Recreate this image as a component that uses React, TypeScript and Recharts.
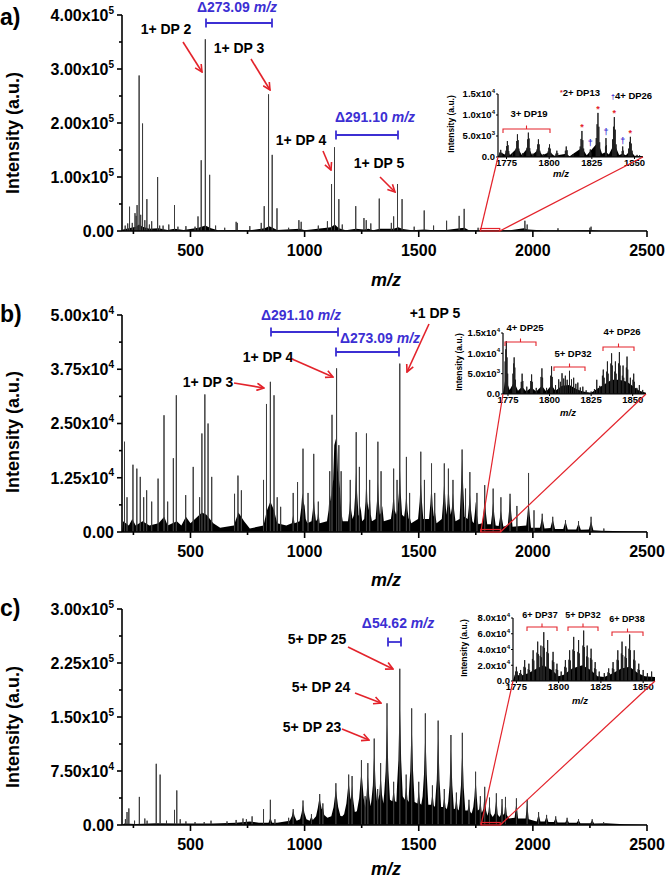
import React from "react";
import { ComposedChart, Line, Area, XAxis, YAxis } from "recharts";

const FONT = '"Liberation Sans", Arial, Helvetica, sans-serif';
const RED = "#e3232b";
const BLUE = "#3c2fd3";

// ---------- panel a ----------
const sticksA: [number, number][] = [
  [214, 10000], [225, 14000], [233, 45000], [245, 15000], [257, 33000], [262, 28000], [266, 48000],
  [275, 288000], [282, 30000], [290, 199000], [300, 20000], [309, 59000], [320, 12000], [330, 18000],
  [356, 100000], [365, 10000], [380, 10000], [405, 12000], [430, 48000], [445, 8000], [480, 9000],
  [520, 8000], [533, 27000], [547, 131000], [565, 355000], [584, 104000], [610, 10000], [650, 6000],
  [700, 17000], [705, 15000], [760, 9000], [810, 15000], [823, 46000], [842, 253000], [858, 141000],
  [879, 42000], [930, 6000], [975, 20000], [985, 17000], [1060, 10000], [1100, 18000], [1118, 87000],
  [1131, 155000], [1150, 59000], [1165, 12000], [1224, 46000], [1260, 24000], [1270, 20000],
  [1290, 14000], [1327, 60000], [1380, 15000], [1390, 27000], [1407, 87000], [1427, 59000],
  [1480, 8000], [1524, 38000], [1565, 10000], [1622, 19000], [1677, 28000], [1699, 41000],
  [1760, 6000], [1965, 19000], [1975, 12000], [2110, 5000], [2250, 6000], [2255, 8000],
];
const envA: [number, number][] = [
  [200, 0], [205, 3000], [230, 5000], [260, 8000], [275, 12000], [290, 8000], [320, 4000], [360, 5000],
  [400, 2000], [430, 4000], [470, 2000], [535, 6000], [565, 10000], [590, 5000], [620, 1500],
  [700, 2000], [760, 1500], [825, 5000], [845, 9000], [860, 6000], [880, 2000], [980, 4000],
  [1000, 1500], [1115, 7000], [1132, 12000], [1150, 5000], [1180, 1500], [1225, 4000], [1260, 3000],
  [1280, 4000], [1300, 1500], [1330, 4000], [1390, 4000], [1410, 7000], [1430, 3500], [1470, 1500],
  [1525, 3000], [1550, 2000], [1620, 2000], [1680, 5000], [1700, 6000], [1720, 1500], [1800, 1500],
  [1900, 1500], [1960, 5000], [1980, 3000], [2050, 1000], [2150, 800], [2260, 1500], [2300, 600],
  [2500, 300],
];
const yTicksA = [0, 50000, 100000, 150000, 200000, 250000, 300000, 350000, 400000];
const yMajorA = [0, 100000, 200000, 300000, 400000];
const yLabelA: [string, string][] = [["0.00", ""], ["1.00x10", "5"], ["2.00x10", "5"], ["3.00x10", "5"], ["4.00x10", "5"]];

// ---------- panel b ----------
const sticksB: [number, number][] = [
  [211, 20800], [222, 8000], [248, 15500], [265, 14600], [280, 12700], [295, 8000], [308, 9600],
  [330, 7000], [358, 12300], [384, 26900], [400, 7000], [425, 17000], [438, 31500], [479, 8500],
  [512, 15000], [540, 8000], [550, 22700], [563, 31700], [577, 25000], [593, 12700], [693, 8800],
  [708, 13000], [723, 9600], [820, 12000], [833, 29500], [850, 34600], [866, 31500], [880, 8000],
  [895, 5800], [950, 9000], [969, 11500], [993, 19200], [1015, 9000], [1040, 18000], [1060, 7000],
  [1110, 14000], [1120, 27000], [1140, 37700], [1150, 20000], [1160, 14000], [1200, 12000],
  [1226, 23000], [1240, 15000], [1271, 22700], [1285, 12000], [1321, 20800], [1335, 14000],
  [1390, 14600], [1405, 12000], [1417, 38800], [1446, 17300], [1460, 9000], [1509, 18500],
  [1525, 12000], [1556, 15800], [1570, 9000], [1612, 15800], [1630, 14600], [1650, 12000],
  [1690, 19000], [1705, 10000], [1724, 13800], [1755, 9000], [1789, 10800], [1826, 10000],
  [1860, 8000], [1900, 8800], [1930, 6000], [1981, 13600], [2005, 5000], [2041, 4200], [2087, 3500],
  [2143, 2700], [2200, 2500], [2255, 3500], [2311, 800],
];
const envB: [number, number][] = [
  [200, 0], [205, 2500], [230, 1500], [245, 3000], [260, 1500], [290, 2500], [320, 1500], [360, 2000],
  [385, 3500], [400, 1500], [440, 2500], [460, 1500], [480, 3500], [500, 2000], [550, 4500],
  [570, 4000], [600, 2000], [630, 1000], [690, 1500], [710, 4500], [735, 2500], [760, 800],
  [820, 1500], [835, 5000], [850, 7000], [866, 5000], [880, 2000], [920, 1500],
  [944, 2000], [950, 4000], [956, 2000], [978, 2500], [985, 5500], [990, 9000], [995, 7000],
  [1000, 6000], [1005, 3000], [1012, 2000], [1030, 2500], [1036, 5000], [1040, 8000], [1044, 5000],
  [1050, 2500], [1056, 3000], [1060, 5000], [1066, 2000],
  [1098, 2500], [1105, 5000], [1110, 9000], [1115, 7000], [1120, 10000], [1125, 12000], [1130, 20000],
  [1135, 21000], [1140, 22000], [1146, 14000], [1155, 10000], [1160, 5000], [1167, 2500],
  [1190, 2500], [1196, 5000], [1200, 8000], [1204, 5000], [1210, 3000], [1216, 4000], [1222, 9000],
  [1226, 15000], [1230, 9000], [1236, 4000], [1240, 3500], [1245, 6000], [1252, 2500],
  [1261, 3000], [1267, 7000], [1271, 13000], [1275, 7000], [1280, 5000], [1285, 9000], [1290, 4000],
  [1295, 2500], [1311, 3000], [1317, 7000], [1321, 12000], [1325, 7000], [1330, 4000], [1335, 4500],
  [1340, 6000], [1347, 2500], [1378, 3000], [1385, 5500], [1390, 9000], [1395, 5000], [1401, 4000],
  [1407, 5000], [1413, 9000], [1417, 16000], [1421, 9000], [1427, 4000], [1436, 3500], [1441, 5500],
  [1446, 9000], [1451, 5000], [1456, 3000], [1460, 3500], [1467, 2000],
  [1497, 3000], [1504, 7000], [1509, 12000], [1514, 7000], [1520, 3000], [1545, 3000], [1551, 6500],
  [1556, 11000], [1561, 6000], [1566, 3500], [1570, 5000], [1578, 2000],
  [1601, 3000], [1607, 7000], [1612, 12000], [1617, 7000], [1621, 4000], [1626, 6500], [1630, 11000],
  [1635, 6500], [1640, 4000], [1645, 5500], [1650, 9000], [1655, 5000], [1661, 2500],
  [1679, 3000], [1685, 10000], [1690, 17000], [1695, 10000], [1701, 3500], [1714, 3000], [1719, 5500],
  [1724, 9000], [1729, 5000], [1735, 2500], [1741, 2000], [1746, 4500], [1750, 7000], [1755, 4000],
  [1761, 1800], [1779, 2000], [1784, 4500], [1789, 8000], [1794, 4500], [1800, 1800], [1816, 1800],
  [1821, 4000], [1826, 7000], [1831, 4000], [1837, 1500], [1850, 1400], [1855, 3000], [1860, 5000],
  [1865, 3000], [1871, 1200], [1890, 1600], [1895, 4500], [1900, 8000], [1905, 4500], [1911, 1200],
  [1971, 1500], [1976, 4000], [1981, 7000], [1986, 4000], [1992, 1000],
  [2031, 1000], [2041, 3500], [2051, 800], [2077, 900], [2087, 3000], [2097, 700], [2133, 700],
  [2143, 2500], [2153, 600], [2190, 600], [2200, 2000], [2210, 500], [2245, 600], [2255, 2500],
  [2265, 400], [2300, 300], [2400, 200], [2500, 100],
];
const yTicksB = [0, 6250, 12500, 18750, 25000, 31250, 37500, 43750, 50000];
const yMajorB = [0, 12500, 25000, 37500, 50000];
const yLabelB: [string, string][] = [["0.00", ""], ["1.25x10", "4"], ["2.50x10", "4"], ["3.75x10", "4"], ["5.00x10", "4"]];

// ---------- panel c ----------
const sticksC: [number, number][] = [
  [215, 8000], [222, 18000], [230, 23000], [255, 6000], [276, 39000], [300, 9000], [310, 6000],
  [350, 85000], [367, 70000], [395, 6000], [430, 21000], [440, 48000], [455, 8000], [480, 5000],
  [520, 4000], [560, 4000], [590, 6000], [660, 5000], [700, 7000], [730, 9000], [745, 8000],
  [770, 12000], [820, 22000], [850, 35000], [870, 8000], [930, 10000], [950, 22000], [993, 34000],
  [1030, 15000], [1066, 43000], [1080, 30000], [1137, 58000], [1193, 70000], [1208, 68000],
  [1249, 90000], [1265, 40000], [1277, 86000], [1305, 120000], [1320, 50000], [1333, 86000],
  [1361, 169000], [1390, 60000], [1417, 217000], [1445, 70000], [1469, 162000], [1500, 60000],
  [1529, 155000], [1560, 55000], [1585, 145000], [1612, 50000], [1641, 125000], [1665, 45000],
  [1691, 128000], [1720, 35000], [1749, 74000], [1770, 40000], [1789, 53000], [1810, 38000],
  [1840, 44000], [1865, 36000], [1880, 39000], [1928, 37000], [1975, 35000], [2025, 18000],
  [2060, 14000], [2100, 12000], [2150, 10000], [2200, 8000], [2260, 8000], [2310, 4000],
];
const envC: [number, number][] = [
  [200, 0], [210, 2000], [260, 1500], [350, 2500], [450, 2000], [600, 2000], [700, 3000], [760, 5000],
  [800, 3000], [842, 3000], [850, 10000], [858, 3000], [880, 3000],
  [935, 6000], [944, 12000], [950, 20000], [956, 12000], [965, 6000], [980, 8000], [987, 17000],
  [993, 28000], [999, 17000], [1008, 8000], [1022, 6000], [1030, 12000], [1036, 7000], [1050, 12000],
  [1058, 24000], [1062, 32000], [1066, 38000], [1070, 30000], [1075, 22000], [1080, 25000],
  [1086, 14000], [1100, 10000],
  [1117, 12000], [1127, 25000], [1133, 40000], [1137, 50000], [1141, 40000], [1147, 25000], [1157, 12500],
  [1165, 12000], [1173, 15000], [1183, 30000], [1189, 48000], [1193, 60000], [1197, 48000], [1201, 35000],
  [1204, 40000], [1208, 55000], [1213, 35000], [1220, 18000],
  [1229, 19000], [1239, 37000], [1245, 60000], [1249, 75000], [1253, 60000], [1259, 37000], [1266, 24000],
  [1271, 40000], [1277, 70000], [1283, 40000], [1289, 26000],
  [1293, 35000], [1299, 55000], [1302, 80000], [1305, 100000], [1308, 80000], [1311, 55000], [1318, 30000],
  [1327, 42000], [1333, 70000], [1339, 42000], [1345, 30000],
  [1349, 45000], [1355, 75000], [1358, 110000], [1361, 140000], [1364, 110000], [1367, 75000], [1374, 35000],
  [1384, 33000], [1390, 50000], [1396, 33000], [1402, 32000],
  [1405, 55000], [1411, 90000], [1414, 135000], [1417, 170000], [1420, 135000], [1423, 90000], [1430, 40000],
  [1439, 35000], [1445, 55000], [1451, 35000], [1456, 32000],
  [1457, 45000], [1463, 75000], [1466, 110000], [1469, 140000], [1472, 110000], [1475, 75000], [1482, 32000],
  [1494, 30000], [1500, 50000], [1506, 30000], [1511, 28000],
  [1517, 40000], [1523, 70000], [1526, 100000], [1529, 130000], [1532, 100000], [1535, 70000], [1542, 28000],
  [1554, 28000], [1560, 45000], [1566, 27000], [1571, 25000],
  [1573, 36000], [1579, 62000], [1582, 95000], [1585, 120000], [1588, 95000], [1591, 62000], [1598, 25000],
  [1606, 25000], [1612, 40000], [1618, 24000], [1623, 22000],
  [1629, 32000], [1635, 55000], [1638, 82000], [1641, 105000], [1644, 82000], [1647, 55000], [1654, 22000],
  [1659, 23000], [1665, 38000], [1671, 22000], [1675, 20000],
  [1679, 30000], [1685, 55000], [1688, 82000], [1691, 105000], [1694, 82000], [1697, 52000], [1704, 20000],
  [1714, 20000], [1720, 30000], [1726, 18000], [1732, 16000],
  [1739, 25000], [1744, 40000], [1749, 65000], [1754, 40000], [1759, 20000],
  [1765, 22000], [1770, 35000], [1776, 17000], [1783, 22000], [1789, 45000], [1795, 20000], [1801, 13000],
  [1805, 18000], [1810, 32000], [1815, 16000], [1824, 11000], [1833, 16000], [1840, 38000], [1846, 15000],
  [1853, 11000], [1859, 14000], [1865, 30000], [1870, 14000], [1875, 16000], [1880, 33000], [1886, 14000],
  [1895, 9000], [1920, 10000], [1928, 32000], [1935, 9000], [1968, 9000], [1975, 30000], [1982, 8000],
  [2017, 5000], [2025, 15000], [2033, 5000], [2052, 5000], [2060, 12000], [2068, 4000],
  [2092, 4000], [2100, 10000], [2108, 3500], [2142, 3500], [2150, 8000], [2158, 3000],
  [2192, 3000], [2200, 7000], [2208, 2500], [2252, 2500], [2260, 7000], [2268, 2000],
  [2320, 2500], [2400, 1000], [2500, 300],
];
const yTicksC = [0, 37500, 75000, 112500, 150000, 187500, 225000, 262500, 300000];
const yMajorC = [0, 75000, 150000, 225000, 300000];
const yLabelC: [string, string][] = [["0.00", ""], ["7.50x10", "4"], ["1.50x10", "5"], ["2.25x10", "5"], ["3.00x10", "5"]];

const xTicks = [250, 500, 750, 1000, 1250, 1500, 1750, 2000, 2250, 2500];
const xMajor = [500, 1000, 1500, 2000, 2500];

// ---------- insets ----------
const insetSticksA: [number, number][] = [
  [1771.0, 800], [1771.6, 1700], [1772.2, 1000],
  [1774.7, 1500], [1775.1, 2600], [1775.5, 3800], [1775.9, 2800], [1776.3, 1400], [1778.5, 800],
  [1780.6, 2000], [1781.0, 3800], [1781.4, 5400], [1781.8, 4000], [1782.2, 2000], [1784.5, 900],
  [1787.0, 2200], [1787.4, 4200], [1787.8, 5800], [1788.2, 4400], [1788.6, 2100], [1790.5, 800],
  [1792.9, 1800], [1793.3, 3000], [1793.7, 4200], [1794.1, 3000], [1794.5, 1500], [1796.5, 700],
  [1799.4, 1300], [1799.8, 2200], [1800.2, 3000], [1800.6, 2000], [1801.0, 1000],
  [1804.0, 800], [1804.5, 1500], [1805.0, 900], [1809.5, 1500], [1810.0, 2500], [1810.5, 1600], [1814, 600],
  [1818.2, 2500], [1818.7, 4300], [1819.2, 6200], [1819.7, 4000], [1820.2, 2000],
  [1823.8, 1200], [1824.1, 1800], [1824.4, 1100],
  [1827.6, 4500], [1828.1, 7800], [1828.6, 10500], [1829.1, 7200], [1829.6, 3500],
  [1833.0, 2500], [1833.3, 4500], [1833.6, 2800],
  [1837.2, 4200], [1837.7, 7200], [1838.2, 9500], [1838.7, 6500], [1839.2, 3000],
  [1842.8, 1400], [1843.1, 2500], [1843.4, 1500],
  [1846.6, 2000], [1847.1, 3600], [1847.6, 4800], [1848.1, 3200], [1848.6, 1500],
  [1851.5, 500], [1853.0, 400],
];
const insetEnvA: [number, number][] = [
  [1770, 0], [1771, 1200], [1774, 600], [1775.5, 1800], [1777, 500], [1781.4, 2200], [1784, 500],
  [1787.8, 2400], [1790, 500], [1793.7, 1800], [1796, 400], [1800.2, 1200], [1803, 300], [1810, 800],
  [1812, 200], [1819.2, 2200], [1822, 400], [1828.6, 3500], [1831, 800], [1833.3, 1200], [1835, 600],
  [1838.2, 3200], [1841, 500], [1843.1, 800], [1845, 400], [1847.6, 1600], [1850, 300], [1855, 200],
];
const insetSticksB: [number, number][] = [
  [1773.3, 8000], [1773.7, 11000], [1774.0, 13000], [1774.4, 9000], [1774.8, 5000],
  [1778.0, 5000], [1778.4, 7500], [1778.7, 9000], [1779.1, 6500], [1779.5, 3500],
  [1783.0, 3000], [1783.5, 5000], [1783.9, 3200], [1786.3, 1800],
  [1788.7, 3200], [1789.2, 4800], [1789.6, 3000], [1792.0, 1500],
  [1794.9, 4200], [1795.4, 6300], [1795.8, 4000], [1798.2, 1500],
  [1800.7, 4500], [1801.2, 6800], [1801.6, 4200], [1803.6, 2200],
  [1805.5, 3600], [1806.5, 3000], [1807.5, 5100], [1808.5, 3800], [1809.5, 4500], [1810.6, 3500],
  [1812.0, 5700], [1813.2, 3600], [1814.5, 4000], [1815.8, 2500], [1817.0, 2800], [1818.5, 1600],
  [1820.0, 1800], [1822.0, 900], [1825.0, 600], [1827.0, 1200], [1828.4, 3500], [1830.2, 2000],
  [1831.8, 4500], [1832.3, 6000], [1832.8, 4000], [1834.4, 5500], [1834.8, 8000], [1835.2, 5000],
  [1836.9, 7500], [1837.3, 10000], [1837.7, 7000], [1839.2, 5500], [1839.6, 8000], [1840.0, 5000],
  [1841.5, 7500], [1842.0, 10300], [1842.4, 7000], [1843.8, 4500], [1844.2, 7000], [1844.6, 4000],
  [1846.2, 6500], [1846.6, 9200], [1847.0, 6000], [1848.6, 4000],
  [1850.2, 3500], [1850.6, 5000], [1851.0, 3000], [1852.5, 1500], [1854.0, 2200], [1856.0, 1000],
];
const insetEnvB: [number, number][] = [
  [1772, 0], [1773.5, 4000], [1776, 1000], [1778.7, 3000], [1781, 800], [1783.5, 1800], [1786, 600],
  [1789, 1600], [1792, 600], [1795.4, 2000], [1798, 600], [1801.2, 2200], [1803.5, 800],
  [1807.5, 2000], [1812, 2200], [1816, 1200], [1820, 600], [1825, 300], [1828.4, 1200],
  [1832.3, 2200], [1837.3, 3500], [1841.9, 3500], [1846.6, 3000], [1850.6, 1800], [1854, 800], [1858, 300],
];
const insetSticksC: [number, number][] = [
  [1774.5, 12000], [1775.0, 18000], [1775.5, 12000], [1777.0, 10000], [1777.5, 14000], [1778.0, 9000],
  [1779.5, 18000], [1779.9, 26500], [1780.3, 17000], [1782.0, 15000], [1782.4, 22000], [1782.8, 14000],
  [1784.5, 28000], [1784.9, 39000], [1785.3, 26000], [1787.2, 36000], [1787.6, 50000], [1788.0, 34000],
  [1789.1, 32000], [1789.5, 45000], [1789.9, 30000], [1790.8, 44000], [1791.2, 62000], [1791.6, 42000],
  [1793.1, 37000], [1793.5, 52000], [1793.9, 35000], [1796.3, 26000], [1796.7, 37000], [1797.1, 24000],
  [1798.6, 15000], [1799.0, 22000], [1799.4, 14000], [1801.5, 12000],
  [1803.6, 18000], [1804.0, 26500], [1804.4, 17000], [1806.1, 27000], [1806.5, 39000], [1806.9, 26000],
  [1808.5, 40000], [1808.9, 56000], [1809.3, 38000], [1811.4, 37000], [1811.8, 52000], [1812.2, 35000],
  [1814.4, 45000], [1814.8, 64000], [1815.2, 43000], [1816.5, 31000], [1816.9, 45000], [1817.3, 30000],
  [1818.8, 29000], [1819.2, 41000], [1819.6, 27000], [1821.2, 16000], [1821.6, 24000], [1822.0, 15000],
  [1824.0, 12000], [1827.0, 10000],
  [1829.2, 11000], [1829.6, 16000], [1830.0, 10000], [1831.8, 16000], [1832.2, 24000], [1832.6, 15000],
  [1834.6, 27000], [1835.0, 39000], [1835.4, 26000], [1837.1, 35000], [1837.5, 50000], [1837.9, 33000],
  [1839.3, 31000], [1839.7, 44000], [1840.1, 29000], [1841.6, 41000], [1842.0, 59000], [1842.4, 39000],
  [1844.3, 27000], [1844.7, 39000], [1845.1, 26000], [1847.0, 15000], [1847.4, 22000], [1847.8, 14000],
  [1850.0, 14000], [1852.5, 10000], [1855.0, 12000],
];
const insetEnvC: [number, number][] = [
  [1773, 0], [1774, 8000], [1778, 7000], [1782, 10000], [1787, 16000], [1791, 20000], [1796, 14000],
  [1800, 6000], [1803, 8000], [1808, 16000], [1814, 20000], [1819, 14000], [1823, 6000], [1827, 5000],
  [1832, 10000], [1837, 16000], [1842, 18000], [1847, 10000], [1851, 6000], [1857, 5000],
];
const insetXTicks = [1775, 1800, 1825, 1850];
const insetYTicksAB = [0, 5000, 10000, 15000];
const insetYLabelAB: [string, string][] = [["0.0", ""], ["5.0x10", "3"], ["1.0x10", "4"], ["1.5x10", "4"]];
const insetYTicksC = [0, 20000, 40000, 60000, 80000];
const insetYLabelC: [string, string][] = [["0.0", ""], ["2.0x10", "4"], ["4.0x10", "4"], ["6.0x10", "4"], ["8.0x10", "4"]];

// marked peaks in inset a
const starPeaksA: [number, number][] = [[1819.2, 6200], [1828.6, 10500], [1838.2, 9500], [1847.6, 4800]];
const daggerPeaksA: [number, number][] = [[1824.1, 1800], [1833.3, 4500], [1843.1, 2500]];

type Row = { mz: number; stick?: number; env?: number };
function buildRows(sticks: [number, number][], env: [number, number][]): Row[] {
  const rows: Row[] = [];
  sticks.forEach(([mz, v]) => {
    rows.push({ mz, stick: 0 }, { mz, stick: v }, { mz, stick: 0 });
  });
  env.forEach(([mz, v]) => rows.push({ mz, env: v }));
  return rows.sort((p, q) => p.mz - q.mz);
}

const yTick = (majors: number[], labels: [string, string][], fs: number, sup: number, gap: number, big: number, small: number, sw: number) =>
  (props: any) => {
    const { x, y, payload } = props;
    const ax = x + gap;
    const i = majors.indexOf(payload.value);
    return (
      <g>
        <line x1={ax - (i >= 0 ? big : small)} x2={ax} y1={y} y2={y} stroke="#000" strokeWidth={sw} />
        {i >= 0 && (
          <text x={x} y={y} dy="0.36em" textAnchor="end" fontFamily={FONT} fontWeight="bold" fontSize={fs} fill="#000">
            {labels[i][0]}
            {labels[i][1] && (
              <tspan dy={-fs * 0.45} fontSize={sup}>{labels[i][1]}</tspan>
            )}
          </text>
        )}
      </g>
    );
  };

const xTick = (majors: number[], fs: number, gap: number, big: number, small: number, textOff: number, sw: number) =>
  (props: any) => {
    const { x, y, payload } = props;
    const ay = y - gap;
    const major = majors.includes(payload.value);
    return (
      <g>
        <line x1={x} x2={x} y1={ay} y2={ay + (major ? big : small)} stroke="#000" strokeWidth={sw} />
        {major && (
          <text x={x} y={ay + textOff} textAnchor="middle" fontFamily={FONT} fontWeight="bold" fontSize={fs} fill="#000">
            {payload.value}
          </text>
        )}
      </g>
    );
  };

const PLOT_L = 122;
const PLOT_R = 647;

function MainSpectrum(p: {
  top: number; height: number; plotTop: number; plotBottom: number; yMax: number;
  yTicks: number[]; yMajor: number[]; yLabels: [string, string][]; rows: Row[];
}) {
  const margin = {
    top: p.plotTop - p.top,
    right: 666 - PLOT_R,
    left: PLOT_L - 100,
    bottom: p.top + p.height - p.plotBottom - 30,
  };
  return (
    <div style={{ position: "absolute", left: 0, top: p.top }}>
      <ComposedChart width={666} height={p.height} data={p.rows} margin={margin}>
        <XAxis dataKey="mz" type="number" domain={[200, 2500]} allowDataOverflow ticks={xTicks} interval={0}
          tickSize={0} tickMargin={8} tickLine={false} height={30}
          axisLine={{ stroke: "#000", strokeWidth: 1.6 }} tick={xTick(xMajor, 16, 8, 6, 3, 25, 1.6)} />
        <YAxis type="number" domain={[0, p.yMax]} allowDataOverflow ticks={p.yTicks} interval={0} width={100}
          tickSize={0} tickMargin={8} tickLine={false}
          axisLine={{ stroke: "#000", strokeWidth: 1.6 }} tick={yTick(p.yMajor, p.yLabels, 16, 10, 8, 5, 3, 1.6)} />
        <Area dataKey="env" type="linear" stroke="none" fill="#000" fillOpacity={1} connectNulls
          dot={false} activeDot={false} isAnimationActive={false} />
        <Line dataKey="stick" type="linear" stroke="#3c3c3c" strokeWidth={1} strokeLinejoin="bevel" connectNulls
          dot={false} activeDot={false} isAnimationActive={false} />
      </ComposedChart>
    </div>
  );
}

function Inset(p: {
  left: number; top: number; width: number; margin: any; domain: [number, number]; yMax: number;
  yTicks: number[]; yLabels: [string, string][]; rows: Row[];
}) {
  return (
    <div style={{ position: "absolute", left: p.left, top: p.top }}>
      <ComposedChart width={p.width} height={100} data={p.rows} margin={p.margin}>
        <XAxis dataKey="mz" type="number" domain={p.domain} allowDataOverflow ticks={insetXTicks} interval={0}
          tickSize={0} tickMargin={1} tickLine={false} height={14}
          axisLine={{ stroke: "#000", strokeWidth: 1.2 }} tick={xTick(insetXTicks, 9.5, 1, 2, 2, 9, 1)} />
        <YAxis type="number" domain={[0, p.yMax]} allowDataOverflow ticks={p.yTicks} interval={0} width={40}
          tickSize={0} tickMargin={3} tickLine={false}
          axisLine={{ stroke: "#000", strokeWidth: 1.2 }} tick={yTick(p.yTicks, p.yLabels, 9.5, 6, 3, 2, 2, 1)} />
        <Area dataKey="env" type="linear" stroke="none" fill="#000" fillOpacity={1} connectNulls
          dot={false} activeDot={false} isAnimationActive={false} />
        <Line dataKey="stick" type="linear" stroke="#222" strokeWidth={1} strokeLinejoin="bevel" connectNulls
          dot={false} activeDot={false} isAnimationActive={false} />
      </ComposedChart>
    </div>
  );
}

const mainX = (mz: number) => PLOT_L + ((mz - 200) * (PLOT_R - PLOT_L)) / 2300;
const insAX = (mz: number) => 498 + ((mz - 1770) * 145) / 85;
const insAY = (v: number) => 157 - (v / 15000) * 63;

const Txt = (p: { x: number; y: number; s: React.ReactNode; size?: number; fill?: string; anchor?: string; italic?: boolean }) => (
  <text x={p.x} y={p.y} fontFamily={FONT} fontWeight="bold" fontSize={p.size || 14}
    fill={p.fill || "#000"} textAnchor={(p.anchor as any) || "middle"} fontStyle={p.italic ? "italic" : "normal"}>
    {p.s}
  </text>
);

const Arrow = (p: { x1: number; y1: number; x2: number; y2: number }) => (
  <line x1={p.x1} y1={p.y1} x2={p.x2} y2={p.y2} stroke={RED} strokeWidth={1.6} markerEnd="url(#ah)" />
);

const BlueBracket = (p: { x1: number; x2: number; y: number }) => (
  <g stroke={BLUE} strokeWidth={1.8}>
    <line x1={p.x1} x2={p.x2} y1={p.y} y2={p.y} />
    <line x1={p.x1} x2={p.x1} y1={p.y - 4.5} y2={p.y + 4.5} />
    <line x1={p.x2} x2={p.x2} y1={p.y - 4.5} y2={p.y + 4.5} />
  </g>
);

const RedBracket = (p: { x1: number; x2: number; y: number }) => (
  <path d={`M${p.x1},${p.y + 4} V${p.y} H${p.x2} V${p.y + 4} M${(p.x1 + p.x2) / 2},${p.y} V${p.y - 3.5}`}
    stroke={RED} strokeWidth={1.1} fill="none" />
);

const BlueLabel = (p: { x: number; y: number; v: string }) => (
  <text x={p.x} y={p.y} fontFamily={FONT} fontWeight="bold" fontSize={14} fill={BLUE} textAnchor="middle">
    {"Δ" + p.v + " "}<tspan fontStyle="italic">m/z</tspan>
  </text>
);

const ZoomLines = (p: { m1: number; m2: number; base: number; ix1: number; ix2: number; iy: number }) => {
  const a = mainX(p.m1);
  const b = mainX(p.m2);
  return (
    <g stroke={RED} strokeWidth={1.2} fill="none">
      <rect x={a} y={p.base - 2.5} width={b - a} height={2.5} />
      <line x1={a} y1={p.base} x2={p.ix1} y2={p.iy} />
      <line x1={b} y1={p.base} x2={p.ix2} y2={p.iy} />
    </g>
  );
};

const VLabel = (p: { x: number; y: number; size: number; s: string }) => (
  <text transform={`translate(${p.x},${p.y}) rotate(-90)`} textAnchor="middle" dominantBaseline="central"
    fontFamily={FONT} fontWeight="bold" fontSize={p.size} fill="#000">{p.s}</text>
);

export default function App() {
  const rowsA = buildRows(sticksA, envA);
  const rowsB = buildRows(sticksB, envB);
  const rowsC = buildRows(sticksC, envC);
  return (
    <div style={{ position: "absolute", left: 0, top: 0, width: 666, height: 880, background: "#fff", overflow: "hidden" }}>
      <MainSpectrum top={0} height={300} plotTop={15} plotBottom={231} yMax={400000}
        yTicks={yTicksA} yMajor={yMajorA} yLabels={yLabelA} rows={rowsA} />
      <MainSpectrum top={300} height={300} plotTop={315} plotBottom={532} yMax={50000}
        yTicks={yTicksB} yMajor={yMajorB} yLabels={yLabelB} rows={rowsB} />
      <MainSpectrum top={590} height={290} plotTop={609} plotBottom={825} yMax={300000}
        yTicks={yTicksC} yMajor={yMajorC} yLabels={yLabelC} rows={rowsC} />

      <Inset left={430} top={80} width={230} margin={{ top: 14, right: 17, bottom: 9, left: 28 }}
        domain={[1770, 1855]} yMax={15000} yTicks={insetYTicksAB} yLabels={insetYLabelAB}
        rows={buildRows(insetSticksA, insetEnvA)} />
      <Inset left={430} top={320} width={230} margin={{ top: 13, right: 14, bottom: 12, left: 33 }}
        domain={[1772, 1858]} yMax={15000} yTicks={insetYTicksAB} yLabels={insetYLabelAB}
        rows={buildRows(insetSticksB, insetEnvB)} />
      <Inset left={430} top={605} width={235} margin={{ top: 13, right: 10, bottom: 10, left: 43 }}
        domain={[1773, 1857]} yMax={80000} yTicks={insetYTicksC} yLabels={insetYLabelC}
        rows={buildRows(insetSticksC, insetEnvC)} />

      <svg width={666} height={880} style={{ position: "absolute", left: 0, top: 0, pointerEvents: "none" }}>
        <defs>
          <marker id="ah" viewBox="0 0 10 10" refX="9" refY="5" markerWidth="9" markerHeight="9"
            markerUnits="userSpaceOnUse" orient="auto">
            <path d="M1,1 L9,5 L1,9" fill="none" stroke={RED} strokeWidth={1.8} />
          </marker>
        </defs>

        {/* panel letters and axis titles */}
        <Txt x={0} y={25} s="a)" size={23} anchor="start" />
        <Txt x={0} y={322} s="b)" size={23} anchor="start" />
        <Txt x={0} y={616} s="c)" size={23} anchor="start" />
        <VLabel x={13} y={133} size={18} s="Intensity (a.u.)" />
        <VLabel x={13} y={432} size={18} s="Intensity (a.u.)" />
        <VLabel x={13} y={727} size={18} s="Intensity (a.u.)" />
        <Txt x={386} y={286} s="m/z" size={18} italic />
        <Txt x={386} y={586} s="m/z" size={18} italic />
        <Txt x={386} y={875} s="m/z" size={18} italic />

        {/* panel a annotations */}
        <BlueLabel x={237} y={12} v="273.09" />
        <BlueBracket x1={206} x2={272} y={23} />
        <BlueLabel x={375} y={122} v="291.10" />
        <BlueBracket x1={336} x2={398} y={135} />
        <Txt x={166} y={34} s="1+ DP 2" />
        <Arrow x1={183} y1={42} x2={202} y2={72} />
        <Txt x={239} y={53} s="1+ DP 3" />
        <Arrow x1={251} y1={59} x2={270} y2={90} />
        <Txt x={301} y={145} s="1+ DP 4" />
        <Arrow x1={323} y1={151} x2={331} y2={170} />
        <Txt x={379} y={168} s="1+ DP 5" />
        <Arrow x1={380} y1={177} x2={395} y2={192} />
        <ZoomLines m1={1770} m2={1855} base={231} ix1={498} ix2={643} iy={157} />

        {/* inset a annotations */}
        <VLabel x={451} y={124} size={8.5} s="Intensity (a.u.)" />
        <Txt x={561} y={177} s="m/z" size={9.5} italic />
        <Txt x={529} y={117} s="3+ DP19" size={9.5} />
        <RedBracket x1={503} x2={550} y={129} />
        <text x={560} y={96} fontFamily={FONT} fontWeight="bold" fontSize={9.5} fill="#000">
          <tspan fill={RED} fontSize={7} dy={-1}>*</tspan><tspan dy={1}>2+ DP13</tspan>
        </text>
        <text x={611} y={99} fontFamily={FONT} fontWeight="bold" fontSize={9.5} fill="#000">
          <tspan fill={BLUE} fontSize={7}>†</tspan>4+ DP26
        </text>
        {starPeaksA.map(([m, v]) => (
          <Txt key={"s" + m} x={insAX(m)} y={insAY(v) - 1} s="*" size={9} fill={RED} />
        ))}
        {daggerPeaksA.map(([m, v]) => (
          <Txt key={"d" + m} x={insAX(m)} y={insAY(v) - 3} s="†" size={9} fill={BLUE} />
        ))}

        {/* panel b annotations */}
        <BlueLabel x={301} y={320} v="291.10" />
        <BlueBracket x1={271} x2={338} y={332} />
        <BlueLabel x={380} y={343} v="273.09" />
        <BlueBracket x1={336} x2={399} y={352} />
        <Txt x={435} y={318} s="+1 DP 5" />
        <Arrow x1={429} y1={324} x2={407} y2={372} />
        <Txt x={268} y={362} s="1+ DP 4" />
        <Arrow x1={292} y1={359} x2={333} y2={377} />
        <Txt x={208} y={387} s="1+ DP 3" />
        <Arrow x1={234} y1={383} x2={264} y2={388} />
        <ZoomLines m1={1772} m2={1858} base={532} ix1={503} ix2={646} iy={394} />

        {/* inset b annotations */}
        <VLabel x={459} y={362} size={8.5} s="Intensity (a.u.)" />
        <Txt x={568} y={416} s="m/z" size={9.5} italic />
        <Txt x={525} y={331} s="4+ DP25" size={9.5} />
        <RedBracket x1={505} x2={536} y={342} />
        <Txt x={573} y={357} s="5+ DP32" size={9.5} />
        <RedBracket x1={554} x2={585} y={367} />
        <Txt x={622} y={335} s="4+ DP26" size={9.5} />
        <RedBracket x1={603} x2={634} y={347} />

        {/* panel c annotations */}
        <BlueLabel x={398} y={628} v="54.62" />
        <BlueBracket x1={388} x2={401} y={642} />
        <Txt x={317} y={644} s="5+ DP 25" />
        <Arrow x1={348} y1={647} x2={393} y2={669} />
        <Txt x={321} y={692} s="5+ DP 24" />
        <Arrow x1={355} y1={693} x2={381} y2={703} />
        <Txt x={312} y={732} s="5+ DP 23" />
        <Arrow x1={342} y1={729} x2={369} y2={740} />
        <ZoomLines m1={1773} m2={1857} base={825} ix1={513} ix2={655} iy={681} />

        {/* inset c annotations */}
        <VLabel x={464} y={648} size={8.5} s="Intensity (a.u.)" />
        <Txt x={580} y={704} s="m/z" size={9.5} italic />
        <Txt x={540} y={618} s="6+ DP37" size={9} />
        <RedBracket x1={527} x2={557} y={627} />
        <Txt x={583} y={618} s="5+ DP32" size={9} />
        <RedBracket x1={568} x2={598} y={627} />
        <Txt x={627} y={622} s="6+ DP38" size={9} />
        <RedBracket x1={612} x2={643} y={632} />
      </svg>
    </div>
  );
}
